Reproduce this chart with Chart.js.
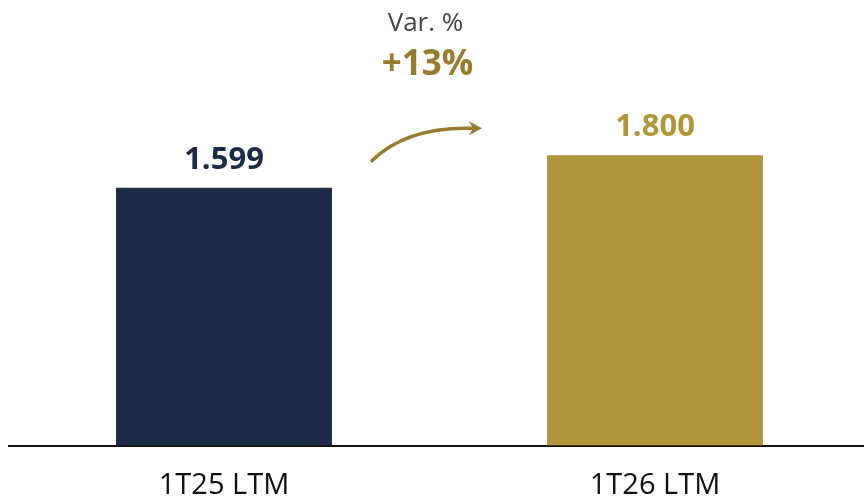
<!DOCTYPE html>
<html>
<head>
<meta charset="utf-8">
<script src="https://cdn.jsdelivr.net/npm/chart.js@4.4.0/dist/chart.umd.min.js"></script>
<style>
  html, body { margin: 0; padding: 0; overflow: hidden; background: #fff; }
  #wrap { width: 872px; height: 519px; }
</style>
</head>
<body>
<div id="wrap"><canvas id="ctx_var"></canvas></div>
<script>
var categories = ['1T25 LTM', '1T26 LTM'];
var values     = [1599, 1800];
var valueText  = ['1.599', '1.800'];
var barColors  = ['#1b2a46', '#b39539'];
var varTitle   = 'Var. %';
var varText    = '+13%';

var FONT = "'Open Sans', 'DejaVu Sans', sans-serif";

// labels above bars + the "Var. %" arrow
var extras = {
    id: 'extras',
    afterDatasetsDraw: function(chart) {
        var c = chart.ctx;
        var meta = chart.getDatasetMeta(0);
        c.save();
        c.textAlign = 'center';
        c.textBaseline = 'alphabetic';
        c.font = "bold 31px " + FONT;
        meta.data.forEach(function(bar, i) {
            c.fillStyle = barColors[i];
            c.fillText(valueText[i], bar.x, bar.y - 19);
        });

        var b0 = meta.data[0], b1 = meta.data[1];
        var mid = (b0.x + b1.x) / 2 - 14;
        c.fillStyle = '#454545';
        c.font = "26px " + FONT;
        c.fillText(varTitle, mid, 31);
        c.fillStyle = '#9a7a2c';
        c.font = "bold 35px " + FONT;
        c.fillText(varText, mid + 2, 75);

        // curved arrow
        var x0 = b0.x + b0.width / 2 + 40, y0 = b0.y - 27;
        var x1 = b1.x - b1.width / 2 - 68, y1 = b1.y - 27;
        c.strokeStyle = '#9a7a2c';
        c.lineWidth = 3.5;
        c.lineCap = 'round';
        c.beginPath();
        c.moveTo(x0, y0);
        c.quadraticCurveTo(x0 + 35, y1 - 2, x1 - 6, y1);
        c.stroke();
        c.fillStyle = '#9a7a2c';
        c.beginPath();
        c.moveTo(x1 + 3, y1);
        c.lineTo(x1 - 10, y1 - 7);
        c.lineTo(x1 - 6, y1);
        c.lineTo(x1 - 10, y1 + 7);
        c.closePath();
        c.fill();
        c.restore();
    }
};

var chart = new Chart(document.getElementById('ctx_var'), {
    type: 'bar',
    data: {
        labels: categories,
        datasets: [{
            data: values,
            backgroundColor: barColors,
            barPercentage: 0.501,
            categoryPercentage: 1
        }]
    },
    options: {
        responsive: true,
        maintainAspectRatio: false,
        animation: false,
        layout: { padding: { left: 8.5, right: 1.5, top: 0, bottom: 0.5 } },
        plugins: { legend: { display: false }, tooltip: { enabled: false } },
        scales: {
            y: { display: false, min: 0, max: 2763 },
            x: {
                grid: { display: false },
                border: { display: true, color: '#111', width: 2 },
                ticks: {
                    color: '#111',
                    padding: 18,
                    font: { family: FONT, size: 29, lineHeight: 1 }
                }
            }
        }
    },
    plugins: [extras]
});
</script>
</body>
</html>
